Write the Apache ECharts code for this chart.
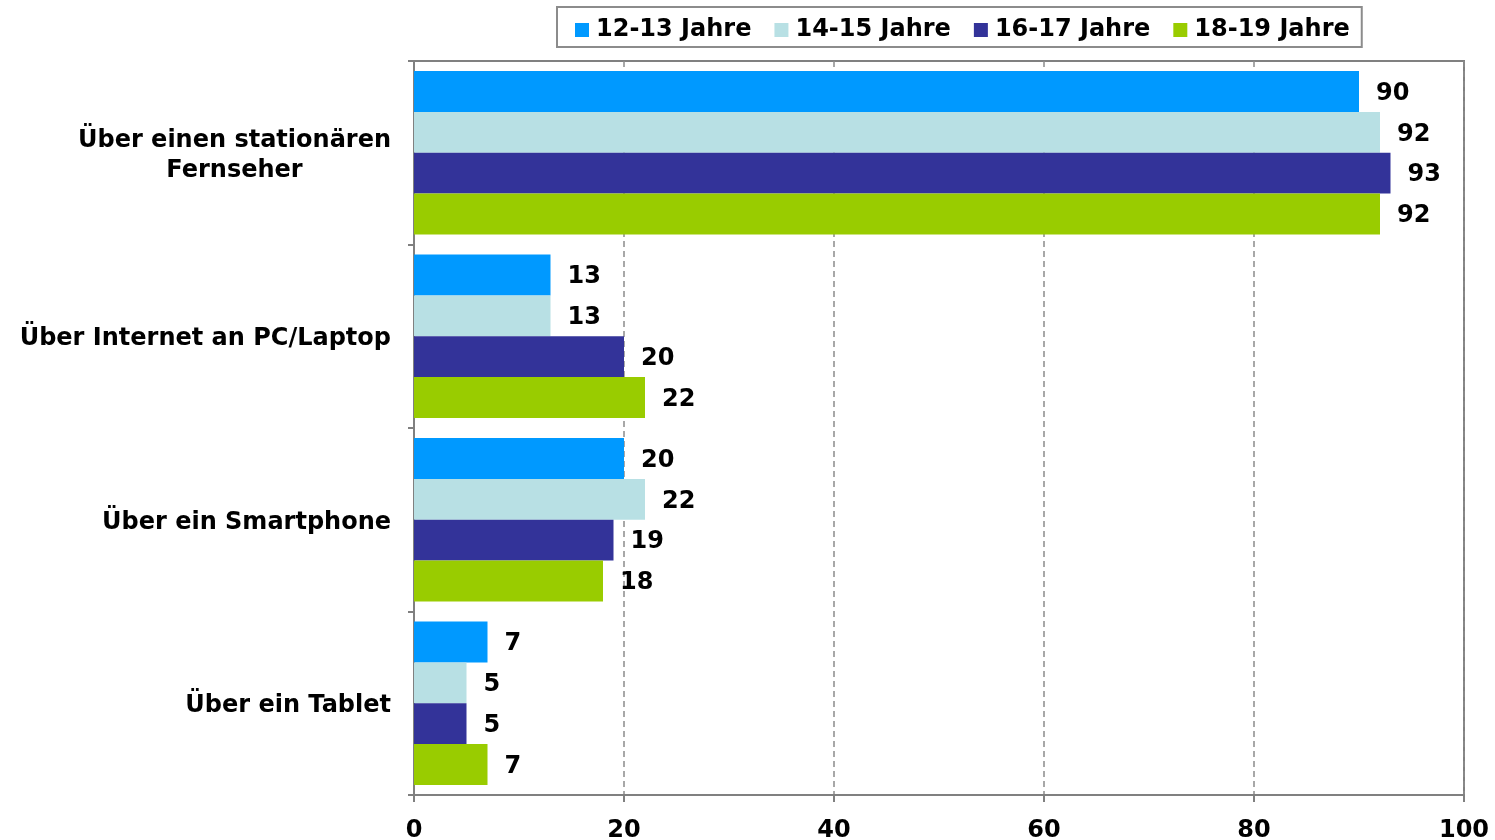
<!DOCTYPE html>
<html>
<head>
<meta charset="utf-8">
<script src="https://cdn.jsdelivr.net/npm/echarts@6/dist/echarts.min.js"></script>
<style>
    html, body { margin: 0; padding: 0; background: #fff; }
    #chart { width: 1495px; height: 840px; }
</style>
</head>
<body>
<div id="chart"></div>
<script>
//Kategorien (von oben nach unten)
var categories = ['Über einen stationären\nFernseher', 'Über Internet an PC/Laptop', 'Über ein Smartphone', 'Über ein Tablet'];
var seriesNames = ['12-13 Jahre', '14-15 Jahre', '16-17 Jahre', '18-19 Jahre'];
var age1213 = [90, 13, 20, 7];
var age1415 = [92, 13, 22, 5];
var age1617 = [93, 20, 19, 5];
var age1819 = [92, 22, 18, 7];
var xTicks = [0, 20, 40, 60, 80, 100];

var colors = ['#0099ff', '#b8e0e4', '#333399', '#99cc00'];
var font = 'DejaVu Sans, Verdana, sans-serif';

var chart = echarts.init(document.getElementById('chart'));

function makeSeries(name, data, color) {
    return {
        name: name,
        type: 'bar',
        data: data,
        barGap: '0%',
        barCategoryGap: '11%',
        itemStyle: {color: color},
        label: {
            show: true,
            position: 'right',
            distance: 17,
            offset: [0, 2],
            color: '#000',
            fontFamily: font,
            fontWeight: 'bold',
            fontSize: 24
        },
        animation: false
    };
}

var option = {
    animation: false,
    legend: {
        left: 557,
        top: 7,
        padding: [11, 12, 5, 18],
        itemWidth: 14,
        itemHeight: 14,
        itemGap: 23,
        icon: 'rect',
        borderColor: '#8c8c8c',
        borderWidth: 2,
        data: seriesNames,
        textStyle: {color: '#000', fontFamily: font, fontWeight: 'bold', fontSize: 24, padding: [5, 0, 0, 2]}
    },
    grid: {
        left: 414,
        right: 31,
        top: 61,
        bottom: 45,
        outerBoundsMode: 'none',
        show: true,
        borderColor: '#808080',
        borderWidth: 2
    },
    xAxis: {
        type: 'value',
        min: xTicks[0],
        max: xTicks[xTicks.length - 1],
        interval: 20,
        axisLine: {show: true, lineStyle: {color: '#808080', width: 2}},
        axisTick: {show: true, length: 7, lineStyle: {color: '#808080', width: 2}},
        splitLine: {show: true, lineStyle: {color: '#8c8c8c', type: [6, 4], width: 1.5}},
        axisLabel: {
            margin: 24,
            color: '#000',
            fontFamily: font,
            fontWeight: 'bold',
            fontSize: 24
        }
    },
    yAxis: {
        type: 'category',
        inverse: true,
        data: categories,
        axisLine: {show: true, lineStyle: {color: '#808080', width: 2}},
        axisTick: {show: true, length: 6, lineStyle: {color: '#808080', width: 2}},
        axisLabel: {
            margin: 23,
            color: '#000',
            fontFamily: font,
            fontWeight: 'bold',
            fontSize: 24,
            lineHeight: 30,
            padding: [6, 0, 0, 0],
            formatter: function (value) {
                var parts = value.split('\n');
                if (parts.length > 1) {
                    return parts.map(function (p) { return '{c|' + p + '}'; }).join('\n');
                }
                return value;
            },
            rich: {
                c: {
                    width: 313,
                    align: 'center',
                    color: '#000',
                    fontFamily: font,
                    fontWeight: 'bold',
                    fontSize: 24,
                    lineHeight: 30
                }
            }
        }
    },
    series: [
        makeSeries(seriesNames[0], age1213, colors[0]),
        makeSeries(seriesNames[1], age1415, colors[1]),
        makeSeries(seriesNames[2], age1617, colors[2]),
        makeSeries(seriesNames[3], age1819, colors[3])
    ]
};

chart.setOption(option);
</script>
</body>
</html>
